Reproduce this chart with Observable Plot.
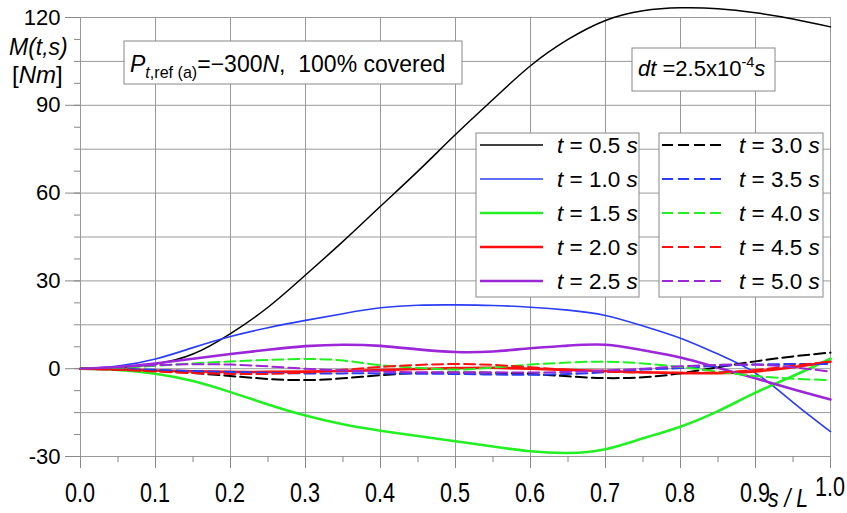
<!DOCTYPE html>
<html><head><meta charset="utf-8">
<script src="https://cdn.jsdelivr.net/npm/d3@7"></script>
<script src="https://cdn.jsdelivr.net/npm/@observablehq/plot@0.6"></script>
<style>body{margin:0;background:#fff;} svg{display:block}</style>
</head><body><div id="chart"></div>
<script>
// s / L positions
const sPos = [0,0.05,0.1,0.15,0.2,0.25,0.3,0.35,0.4,0.45,0.5,0.55,0.6,0.65,0.7,0.75,0.8,0.85,0.9,0.95,1.0];
// M(t,s) values [Nm]
const m_t05 = [0,0.3,1.6,5,12,21,32,43.5,55.5,67.5,80,92,103.5,112.5,119,122.3,123.3,123,121.6,119.5,116.8];
const m_t10 = [0,0.9,3.3,7.2,11,14,16.5,18.8,20.8,21.7,21.8,21.6,21,20,18.2,14.6,10.4,5,-1.5,-11.5,-21.5];
const m_t15 = [0,-0.4,-1.7,-4.2,-8,-12.2,-16,-19,-21.2,-23,-24.8,-26.6,-28.2,-28.8,-27.5,-23.8,-19.8,-14.5,-8.2,-2.5,3.4];
const m_t20 = [0,-0.2,-0.6,-0.9,-1.1,-1.1,-1,-0.8,-0.5,-0.1,0.2,0.3,0,-0.4,-0.8,-1.2,-1.5,-1.5,-0.9,0.5,2.4];
const m_t25 = [0,0.6,1.8,3.4,5,6.5,7.7,8.2,7.8,6.6,5.7,5.9,7,7.9,8.2,6.3,3.8,0.3,-3.3,-7,-10.5];
const m_t30 = [0,-0.2,-0.7,-1.5,-2.5,-3.5,-3.9,-3.3,-2.2,-1.5,-1.3,-1.4,-1.8,-2.6,-3.2,-2.9,-1.6,0.5,2.5,4.2,5.5];
const m_t35 = [0,-0.1,-0.4,-0.8,-1.1,-1.4,-1.6,-1.6,-1.6,-1.7,-1.8,-2,-2.1,-1.8,-1.2,-0.3,0.2,1,1.4,1.6,1.6];
const m_t40 = [0,0.3,1,1.8,2.5,3,3.3,2.8,1.2,0.3,-0.3,0.4,1.4,2.1,2.4,1.8,0.6,-1,-2.5,-3.4,-3.9];
const m_t45 = [0,-0.4,-1,-1.5,-1.8,-1.8,-1.3,-0.4,0.6,1.3,1.6,1.3,0.5,-0.4,-1,-1.3,-1.4,-1.3,-0.4,1,2.5];
const m_t50 = [0,0.5,1.2,1.5,1.4,0.8,0,-0.6,-1,-1.2,-1.3,-1.3,-1.3,-1.1,-0.6,0,0.8,1.3,1.4,0.5,-1];

const seriesTimes = ["0.5","1.0","1.5","2.0","2.5","3.0","3.5","4.0","4.5","5.0"];
const seriesValues = [m_t05,m_t10,m_t15,m_t20,m_t25,m_t30,m_t35,m_t40,m_t45,m_t50];
const seriesColors = ["#000000","#2a3cf5","#22f022","#ff1010","#9b27d8","#000000","#2a3cf5","#22f022","#ff1010","#9b27d8"];
const seriesDashed = [false,false,false,false,false,true,true,true,true,true];
const seriesWidth = [1.5,1.6,2.6,2.6,2.6,2,2,2,2,2];

const yLabelTicks = [-30,0,30,60,90,120];
const yGridTicks = d3.range(-30,121,15);
const yMinorTicks = d3.range(-30,121,7.5);
const xMajorTicks = d3.range(0,11).map(i=>i/10);
const xMinorTicks = d3.range(0,21).map(i=>i/20);

const DASH = "11,5";
const FONT = "'Liberation Sans', Arial, Helvetica, sans-serif";
const GRID = "#999999";

const lineMarks = seriesValues.map((vals,i)=>
  Plot.line(vals.map((v,j)=>({s:sPos[j], m:v})), {
    x:"s", y:"m", stroke: seriesColors[i], strokeWidth: seriesWidth[i],
    strokeDasharray: seriesDashed[i] ? DASH : null, curve:"natural", strokeLinejoin:"round"
  })
);

const plot = Plot.plot({
  width:847, height:513,
  marginLeft:80, marginRight:17, marginTop:17, marginBottom:57,
  x:{domain:[0,1], label:null}, y:{domain:[-30,120], label:null},
  style:{fontFamily:FONT, fontSize:"22px", background:"#fff", color:"#000"},
  marks:[
    Plot.gridX(xMajorTicks, {stroke:GRID, strokeOpacity:1, strokeWidth:1}),
    Plot.gridY(yGridTicks, {stroke:GRID, strokeOpacity:1, strokeWidth:1}),
    Plot.axisY(yMinorTicks, {tickSize:6, tickFormat:()=>"", stroke:"#888", label:null}),
    Plot.axisY(yLabelTicks, {tickSize:15, tickPadding:5, stroke:"#888", fill:"#000", tickFormat:d=>String(d), fontSize:22, label:null}),
    Plot.axisX(xMinorTicks, {tickSize:6, tickFormat:()=>"", stroke:"#888", label:null}),
    Plot.axisX(xMajorTicks, {tickSize:12, tickFormat:()=>"", stroke:"#888", label:null}),
    ...lineMarks
  ]
});
document.getElementById("chart").appendChild(plot);

const X = plot.scale("x"), Y = plot.scale("y");
const svg = d3.select(plot);
const g = svg.append("g").attr("font-family", FONT).attr("fill","#000");

function rich(x, y, parts, size, anchor, subRatio){
  const t = g.append("text").attr("x",x).attr("y",y).attr("font-size",size).attr("text-anchor",anchor||"start");
  let shift = 0;
  parts.forEach(p=>{
    const ts = t.append("tspan").text(p.t);
    if (p.i) ts.attr("font-style","italic");
    const target = p.sub ? 6 : p.sup ? -9 : 0;
    if (target !== shift) { ts.attr("dy", target - shift); shift = target; }
    if (p.sub || p.sup) ts.attr("font-size", size*(subRatio||0.66));
  });
  return t;
}

// x tick labels (tall, narrow)
xMajorTicks.forEach(v=>{
  const last = v === 1;
  g.append("text").attr("text-anchor","middle").attr("font-size",27)
    .attr("transform",`translate(${X.apply(v)},${Y.apply(-30) + (last?40:46)}) scale(0.8,1)`)
    .text(v.toFixed(1));
});
g.append("text").attr("font-size",25).attr("font-style","italic").attr("text-anchor","middle")
  .attr("transform",`translate(${X.apply(0.944)},${Y.apply(-30)+51}) scale(0.85,1)`).text("s / L");

// y axis label
rich(9, 55, [{t:"M(t,s)", i:true}], 23);
rich(12, 83, [{t:"["},{t:"Nm", i:true},{t:"]"}], 24);

// annotation boxes
function box(x1,y1,x2,y2){
  g.append("rect").attr("x",x1).attr("y",y1).attr("width",x2-x1).attr("height",y2-y1)
   .attr("fill","#fff").attr("stroke","#888").attr("stroke-width",1);
}
box(124,41,462,84);
rich(130, 72, [{t:"P", i:true},{t:"t", i:true, sub:true},{t:",ref (a)", sub:true},{t:"=\u2212300"},{t:"N", i:true},{t:",\u00a0 100% covered"}], 23, "start", 0.7);
box(632,48,775,91);
rich(638, 76, [{t:"dt", i:true},{t:" =2.5x10"},{t:"-4", sup:true},{t:"s", i:true}], 22);

// legends
const legRows = [145,179,213,247,281];
box(476,133,639,297);
box(659,133,823,297);
seriesTimes.forEach((tm,i)=>{
  const col = i<5 ? 0 : 1, r = i%5;
  const lx1 = col===0 ? 480 : 662, lx2 = col===0 ? 543 : 726, tx = col===0 ? 557 : 739;
  const yy = legRows[r];
  g.append("line").attr("x1",lx1).attr("x2",lx2).attr("y1",yy).attr("y2",yy)
    .attr("stroke",seriesColors[i]).attr("stroke-width",seriesWidth[i])
    .attr("stroke-dasharray", seriesDashed[i]?DASH:null);
  rich(tx, yy+8, [{t:"t", i:true},{t:" = "+tm+" "},{t:"s", i:true}], 22.5);
});
</script></body></html>
